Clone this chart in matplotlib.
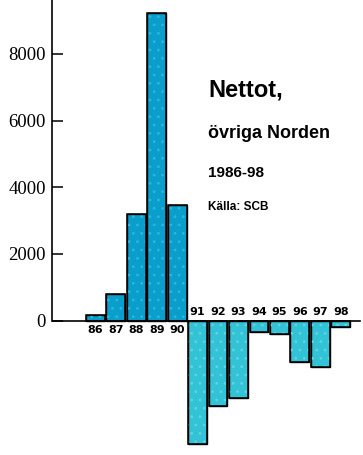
import matplotlib
matplotlib.use("Agg")
import matplotlib.pyplot as plt

years = ["86", "87", "88", "89", "90", "91", "92", "93", "94", "95", "96", "97", "98"]
netto = [160, 800, 3200, 9220, 3470, -3710, -2570, -2330, -350, -410, -1240, -1400, -200]
yticks = [0, 2000, 4000, 6000, 8000]

fig = plt.figure(figsize=(3.63, 4.55), dpi=100)
ax = fig.add_axes([52 / 363, 0, 311 / 363, 1])

x = list(range(len(years)))
pos_color = "#0a9ecc"
neg_color = "#33c3d6"
colors = [pos_color if v >= 0 else neg_color for v in netto]
hatch_colors = ["#2cb6d8" if v >= 0 else "#62d2e0" for v in netto]

plt.rcParams["hatch.linewidth"] = 0.8
ax.bar(x, netto, width=0.92, color=colors, edgecolor="black", linewidth=1.0, zorder=2)
ax.bar(x, netto, width=0.92, color="none", edgecolor=hatch_colors, linewidth=0, hatch="..", zorder=3)
ax.bar(x, netto, width=0.92, color="none", edgecolor="black", linewidth=1.1, zorder=4)

ax.set_xlim(-2.12, 13.09)
ax.set_ylim(-4030, 9620)
ax.axhline(0, xmin=0, xmax=(360 - 52) / 311, color="black", linewidth=1.2, zorder=5)

for s in ["top", "right", "bottom"]:
    ax.spines[s].set_visible(False)
ax.spines["left"].set_bounds(0, 9620)
ax.spines["left"].set_linewidth(1.2)
ax.set_xticks([])
ax.set_yticks(yticks)
ax.set_yticklabels([str(t) for t in yticks], family="Liberation Serif", fontsize=13.5)
ax.tick_params(axis="y", direction="in", length=8, width=1.1, pad=4.5)

for i, v in enumerate(netto):
    if v >= 0:
        ax.text(i, -270, years[i], ha="center", va="center", fontsize=8, fontweight="bold")
    else:
        ax.text(i, 270, years[i], ha="center", va="center", fontsize=8, fontweight="bold")

ax.text(208, 455 - 90, "Nettot,", transform=None, fontsize=17, fontweight="bold",
        family="Liberation Sans", va="center")
ax.text(208, 455 - 134, "övriga Norden", transform=None, fontsize=13, fontweight="bold",
        family="Liberation Sans", va="center")
ax.text(208, 455 - 173, "1986-98", transform=None, fontsize=11, fontweight="bold",
        family="Liberation Sans", va="center")
ax.text(208, 455 - 207, "Källa: SCB", transform=None, fontsize=8.5, fontweight="bold",
        family="Liberation Sans", va="center")

fig.savefig("out.png", dpi=100)
